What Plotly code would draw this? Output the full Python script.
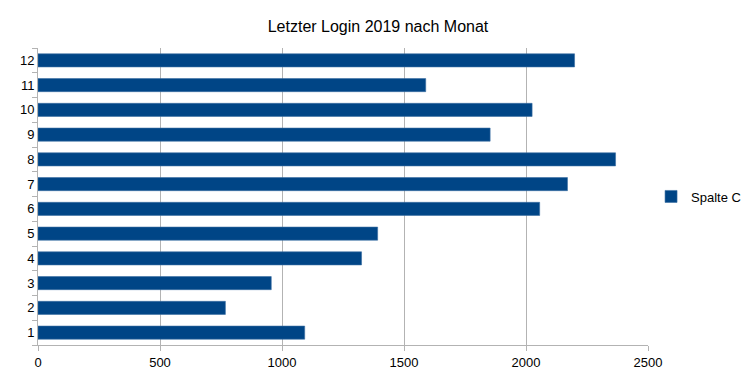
import plotly.graph_objects as go

months = ["1", "2", "3", "4", "5", "6", "7", "8", "9", "10", "11", "12"]
values = [1093, 768, 956, 1326, 1392, 2056, 2170, 2367, 1853, 2025, 1589, 2199]
series_name = "Spalte C"
title = "Letzter Login 2019 nach Monat"

fig = go.Figure()
fig.add_trace(go.Bar(
    x=values, y=months, orientation="h", name=series_name,
    marker=dict(color="#004586", line=dict(color="#3a6fa3", width=0.6)),
    showlegend=True,
))

fig.update_layout(
    width=756, height=378,
    margin=dict(l=30, r=116, t=40, b=41, autoexpand=False),
    paper_bgcolor="white", plot_bgcolor="white",
    font=dict(family="Liberation Sans, Arial, sans-serif", size=13, color="black"),
    title=dict(text=title, x=370 / 756, xanchor="center", y=1 - 18 / 378, yanchor="middle",
               font=dict(size=16, color="black")),
    bargap=0.47,
    legend=dict(x=1.005, y=0.5, xanchor="left", yanchor="middle",
                font=dict(size=13), itemwidth=30),
    xaxis=dict(range=[0, 2500], dtick=500, tick0=0, showgrid=True, gridcolor="#b3b3b3",
               gridwidth=1, zeroline=False, showline=True, linecolor="#b3b3b3",
               ticks="outside", ticklen=5, tickcolor="#b3b3b3", automargin=False),
    yaxis=dict(type="category", categoryorder="array", categoryarray=months,
               showgrid=False, zeroline=False, showline=True, linecolor="#b3b3b3",
               ticks="outside", ticklen=5, tickcolor="#b3b3b3", tickson="boundaries",
               automargin=False),
)

fig.write_html("out.html")
